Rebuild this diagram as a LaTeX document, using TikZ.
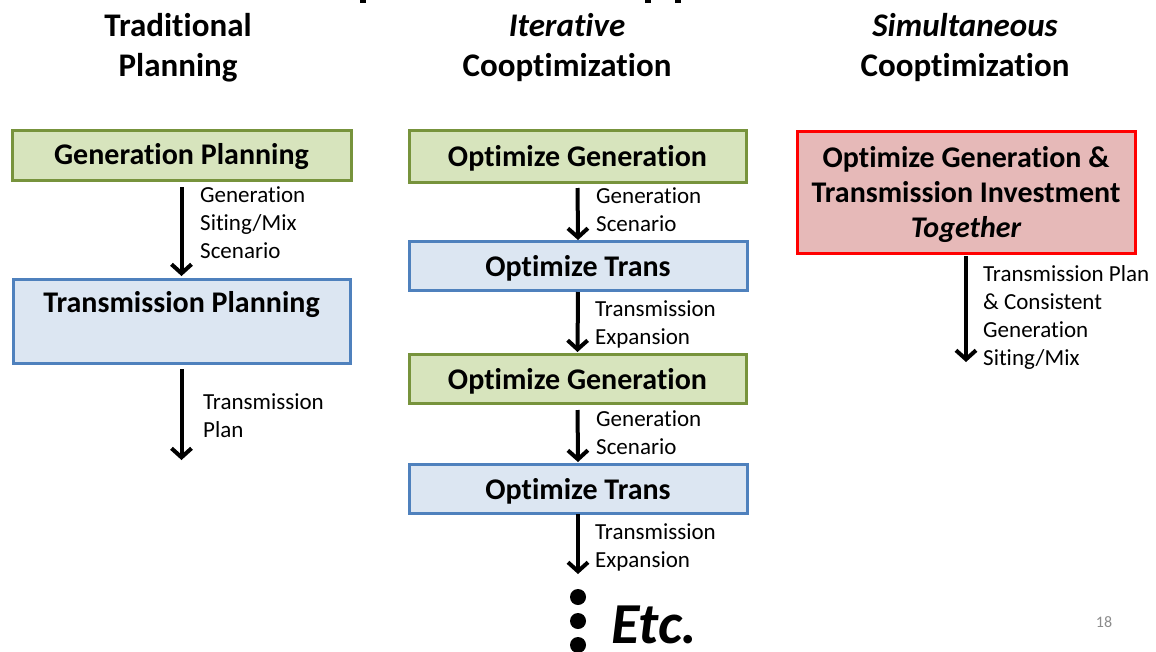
\documentclass[tikz,border=0pt]{standalone}
\usepackage{fontspec}
\setmainfont[Ligatures=NoCommon]{Carlito}
\usetikzlibrary{arrows.meta}
\definecolor{gfill}{HTML}{D7E4BD}
\definecolor{gline}{HTML}{77933C}
\definecolor{bfill}{HTML}{DCE6F2}
\definecolor{bline}{HTML}{4F81BD}
\definecolor{rfill}{HTML}{E6B9B8}
\definecolor{rline}{HTML}{FF0000}
\definecolor{pgnum}{HTML}{8C8C8C}
\tikzset{
  box/.style={draw, line width=3pt, inner sep=0pt, outer sep=0pt},
  genbox/.style={box, fill=gfill, draw=gline},
  transbox/.style={box, fill=bfill, draw=bline},
  bothbox/.style={box, fill=rfill, draw=rline},
  btxt/.style={align=center, inner sep=0pt, font=\fontsize{30}{35}\selectfont\bfseries},
  head/.style={align=center, inner sep=0pt, font=\fontsize{33}{40}\selectfont\bfseries},
  lbl/.style={align=left, anchor=west, inner sep=0pt, font=\fontsize{23}{28}\selectfont},
  arr/.style={line width=4pt, -{Straight Barb[length=9pt,width=20pt]}},
  dot/.style={circle, fill=black, inner sep=0pt, minimum size=16pt},
}
\begin{document}
\begin{tikzpicture}[x=1pt,y=-1pt]
\useasboundingbox (0,0) rectangle (1156,651);
% cut-off remnants of a title line above
\fill (360,0) rectangle (366,3);
\fill (645,0) rectangle (651,3);
\fill (675,0) rectangle (681,3);
% headers
\node[head] (h1) at (178,48) {Traditional\\Planning};
\node[head] (h2) at (567,48) {\itshape Iterative\\Cooptimization};
\node[head] (h3) at (965,48) {\itshape Simultaneous\\\upshape Cooptimization};
% column 1
\node[genbox, minimum width=339pt, minimum height=50pt] (gp) at (181.5,155) {};
\node[btxt] (gpt) at (181.5,157) {Generation Planning};
\node[transbox, minimum width=337pt, minimum height=84pt] (tp) at (181.5,321) {};
\node[btxt] (tpt) at (181.5,305) {Transmission Planning};
\coordinate (e1) at (181.5,460);
\draw[arr, shorten <=7pt, shorten >=3pt] (gp.south) -- (tp.north);
\draw[arr, shorten <=6pt] (tp.south) -- (e1);
\node[lbl] (l1) at (200,223) {Generation\\Siting/Mix\\Scenario};
\node[lbl] (l2) at (203,416) {Transmission\\Plan};
% column 2
\node[genbox, minimum width=337pt, minimum height=52pt] (og1) at (577.5,156) {};
\node[btxt] (og1t) at (577.5,158) {Optimize Generation};
\node[transbox, minimum width=338pt, minimum height=49pt] (ot1) at (578,265.5) {};
\node[btxt] (ot1t) at (578,268) {Optimize Trans};
\node[genbox, minimum width=337pt, minimum height=49pt] (og2) at (577.5,378.5) {};
\node[btxt] (og2t) at (577.5,381) {Optimize Generation};
\node[transbox, minimum width=338pt, minimum height=49pt] (ot2) at (578,488.5) {};
\node[btxt] (ot2t) at (578,491) {Optimize Trans};
\coordinate (e2) at (578,574);
\draw[arr, shorten <=6pt, shorten >=1pt] (og1.south) -- (ot1.north);
\draw[arr, shorten <=2pt, shorten >=2pt] (ot1.south) -- (og2.north);
\draw[arr, shorten <=7pt, shorten >=2pt] (og2.south) -- (ot2.north);
\draw[arr, shorten <=1pt] (ot2.south) -- (e2);
\node[lbl] (l3) at (596,210) {Generation\\Scenario};
\node[lbl] (l4) at (595,324) {Transmission\\Expansion};
\node[lbl] (l5) at (596,433) {Generation\\Scenario};
\node[lbl] (l6) at (595,547) {Transmission\\Expansion};
\node[dot] (d1) at (578,597) {};
\node[dot] (d2) at (578,621) {};
\node[dot] (d3) at (578,645) {};
\node[inner sep=0pt, anchor=west, font=\fontsize{58}{62}\selectfont\bfseries\itshape] (etc) at (611,625) {Etc.};
% column 3
\node[bothbox, minimum width=338pt, minimum height=122pt] (ob) at (966,192) {};
\node[btxt] (obt) at (966,194) {Optimize Generation \&\\Transmission Investment\\\itshape Together};
\coordinate (e3) at (966,362);
\draw[arr, shorten <=3pt] (ob.south) -- (e3);
\node[lbl] (l7) at (983,317.5) {Transmission Plan\\\& Consistent\\Generation\\Siting/Mix};
% page number
\node[inner sep=0pt, text=pgnum, font=\fontsize{16}{19}\selectfont] (pg) at (1104,622) {18};
\end{tikzpicture}
\end{document}
